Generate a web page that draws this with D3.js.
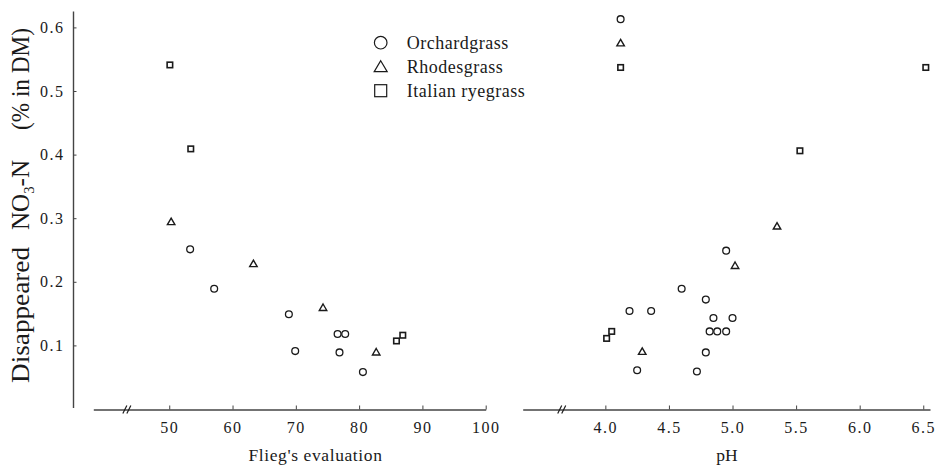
<!DOCTYPE html>
<html><head><meta charset="utf-8">
<script src="https://cdn.jsdelivr.net/npm/d3@7"></script>
<style>
html,body{margin:0;padding:0;background:#fff;}
svg{display:block;}
text{font-family:"Liberation Serif","DejaVu Serif",serif;fill:#1a1a1a;}
</style></head><body>
<svg id="chart" width="940" height="465"></svg>
<script>
// ---- data ----
const seriesNames = ["Orchardgrass", "Rhodesgrass", "Italian ryegrass"];
const fliegOrchX = [53.3, 57.1, 68.9, 69.9, 76.6, 77.8, 76.9, 80.6];
const fliegOrchY = [0.251, 0.189, 0.149, 0.091, 0.118, 0.118, 0.089, 0.058];
const fliegRhodX = [50.3, 63.3, 74.3, 82.7];
const fliegRhodY = [0.294, 0.228, 0.159, 0.089];
const fliegItalX = [50.1, 53.4, 85.9, 86.9];
const fliegItalY = [0.541, 0.409, 0.107, 0.116];
const phOrchX = [4.12, 4.95, 4.60, 4.79, 4.19, 4.36, 4.85, 5.00, 4.82, 4.88, 4.95, 4.79, 4.25, 4.72];
const phOrchY = [0.613, 0.249, 0.189, 0.172, 0.154, 0.154, 0.143, 0.143, 0.122, 0.122, 0.122, 0.089, 0.061, 0.059];
const phRhodX = [4.12, 5.35, 5.02, 4.29];
const phRhodY = [0.575, 0.287, 0.225, 0.090];
const phItalX = [4.12, 6.52, 5.53, 4.01, 4.05];
const phItalY = [0.537, 0.537, 0.406, 0.111, 0.122];
const yTicks = [0.1, 0.2, 0.3, 0.4, 0.5, 0.6];
const fliegTicks = [50, 60, 70, 80, 90, 100];
const phTicks = [4.0, 4.5, 5.0, 5.5, 6.0, 6.5];

// ---- layout ----
const svg = d3.select("#chart");
const ink = "#1a1a1a";
const axisCol = "#444";
const serif = "'Liberation Serif', 'DejaVu Serif', serif";
const y = d3.scaleLinear().domain([0, 0.625]).range([409, 11.5]);
const xL = d3.scaleLinear().domain([38, 100]).range([93.3, 485.7]);
const xR = d3.scaleLinear().domain([3.35, 6.553]).range([522.7, 930]);
const axisY = 409.5;

// y axis (left only)
const yAx = svg.append("g").attr("transform", "translate(73.5,0)")
  .call(d3.axisLeft(y).tickValues(yTicks).tickSizeInner(-3).tickSizeOuter(0).tickPadding(9)
    .tickFormat(d3.format(".1f")));
yAx.select(".domain").attr("stroke", axisCol).attr("stroke-width", 1.4).attr("d", "M0," + y(0.625) + "V408");
yAx.selectAll(".tick line").attr("stroke", axisCol);
yAx.selectAll(".tick text").attr("font-size", 16).attr("letter-spacing", 1.5).attr("fill", ink)
  .style("font-family", serif);

function xAxis(scale, ticks, fmt, breakVal) {
  const g = svg.append("g").attr("transform", "translate(0," + axisY + ")")
    .call(d3.axisBottom(scale).tickValues(ticks).tickSizeInner(-4).tickSizeOuter(0).tickPadding(12)
      .tickFormat(fmt));
  g.select(".domain").attr("stroke", axisCol).attr("stroke-width", 1.4);
  g.selectAll(".tick line").attr("stroke", axisCol);
  g.selectAll(".tick text").attr("font-size", 16).attr("fill", ink).attr("letter-spacing", 1.5)
    .style("font-family", serif);
  const bx = scale(breakVal);
  [-2, 2].forEach(o => {
    g.append("line").attr("x1", bx + o - 2).attr("y1", 4).attr("x2", bx + o + 2).attr("y2", -4)
      .attr("stroke", ink).attr("stroke-width", 1.2);
  });
}
xAxis(xL, fliegTicks, d3.format("d"), 43.3);
xAxis(xR, phTicks, d3.format(".1f"), 3.657);

// axis titles
svg.append("text").attr("x", 315.5).attr("y", 461)
  .attr("text-anchor", "middle").attr("font-size", 17.5).attr("letter-spacing", 0.6).text("Flieg's evaluation");
svg.append("text").attr("x", 727).attr("y", 461)
  .attr("text-anchor", "middle").attr("font-size", 17.5).text("pH");

// y title in three pieces, placed along the rotated baseline
const ylg = svg.append("g").attr("transform", "translate(29,383) rotate(-90)");
ylg.append("text").attr("x", 0).attr("font-size", 25.5)
  .attr("textLength", 136).attr("lengthAdjust", "spacingAndGlyphs").text("Disappeared");
const no3 = ylg.append("text").attr("x", 153).attr("font-size", 25.5)
  .attr("textLength", 70).attr("lengthAdjust", "spacingAndGlyphs");
no3.append("tspan").text("NO");
no3.append("tspan").attr("font-size", 15).attr("dy", 5).text("3");
no3.append("tspan").attr("dy", -5).text("-N");
ylg.append("text").attr("x", 253).attr("font-size", 25.5)
  .attr("textLength", 102).attr("lengthAdjust", "spacingAndGlyphs").text("(% in DM)");

// marks
function circles(xs, ys, sx) {
  svg.append("g").selectAll("circle").data(xs.map((v, i) => [v, ys[i]])).join("circle")
    .attr("cx", d => sx(d[0])).attr("cy", d => y(d[1])).attr("r", 3.4)
    .attr("fill", "none").attr("stroke", ink).attr("stroke-width", 1.3);
}
function squares(xs, ys, sx) {
  const s = 5.5;
  svg.append("g").selectAll("rect").data(xs.map((v, i) => [v, ys[i]])).join("rect")
    .attr("x", d => sx(d[0]) - s / 2).attr("y", d => y(d[1]) - s / 2).attr("width", s).attr("height", s)
    .attr("fill", "none").attr("stroke", ink).attr("stroke-width", 1.6);
}
function triangles(xs, ys, sx) {
  const h = 6.5, w = 7.5;
  svg.append("g").selectAll("path").data(xs.map((v, i) => [v, ys[i]])).join("path")
    .attr("d", d => {
      const cx = sx(d[0]), cy = y(d[1]);
      return "M" + cx + "," + (cy - h * 0.6) + "L" + (cx + w / 2) + "," + (cy + h * 0.4) + "L" + (cx - w / 2) + "," + (cy + h * 0.4) + "Z";
    })
    .attr("fill", "none").attr("stroke", ink).attr("stroke-width", 1.4).attr("stroke-linejoin", "miter");
}
circles(fliegOrchX, fliegOrchY, xL);
triangles(fliegRhodX, fliegRhodY, xL);
squares(fliegItalX, fliegItalY, xL);
circles(phOrchX, phOrchY, xR);
triangles(phRhodX, phRhodY, xR);
squares(phItalX, phItalY, xR);

// legend
const lg = svg.append("g");
const ly = [42.7, 66.7, 90.7];
const lx = 380.7;
lg.append("circle").attr("cx", lx).attr("cy", ly[0]).attr("r", 6.3).attr("fill", "none").attr("stroke", ink).attr("stroke-width", 1.2);
lg.append("path").attr("d", "M" + lx + "," + (ly[1] - 6) + "L" + (lx + 6.5) + "," + (ly[1] + 5) + "L" + (lx - 6.5) + "," + (ly[1] + 5) + "Z")
  .attr("fill", "none").attr("stroke", ink).attr("stroke-width", 1.2);
lg.append("rect").attr("x", lx - 6).attr("y", ly[2] - 6).attr("width", 12).attr("height", 12)
  .attr("fill", "none").attr("stroke", ink).attr("stroke-width", 1.2);
seriesNames.forEach((n, i) => {
  lg.append("text").attr("x", 406.7).attr("y", ly[i] + 6.5).attr("font-size", 18).attr("letter-spacing", 0.5).text(n);
});
</script>
</body></html>
